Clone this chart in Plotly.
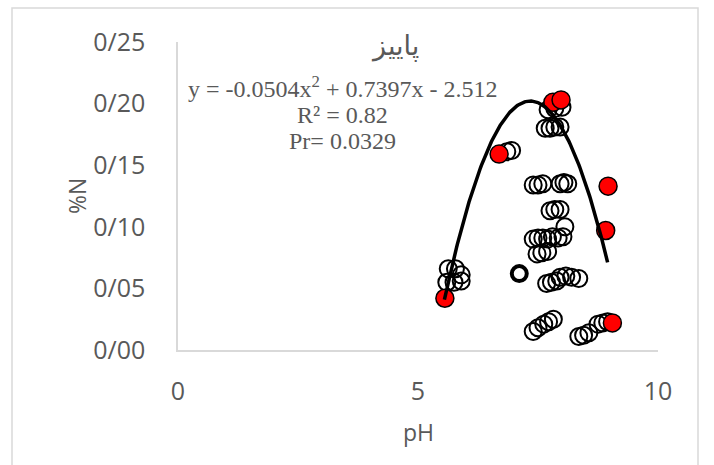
import numpy as np
import plotly.graph_objects as go

# ---- data ----
hollow_x = [7.71, 7.85, 8.00,
            7.65, 7.75, 7.85, 7.96,
            6.85, 6.95,
            7.40, 7.50, 7.60, 7.96, 8.04, 8.12,
            7.75, 7.85, 7.96,
            8.06,
            7.40, 7.50, 7.60, 7.70, 7.80, 7.92, 8.02,
            7.48, 7.58, 7.70,
            5.63, 5.78, 5.90, 5.60, 5.75, 5.90,
            7.68, 7.78, 7.89,
            7.96, 8.08, 8.20, 8.35,
            7.40, 7.50, 7.62, 7.72, 7.82,
            8.35, 8.45, 8.56,
            8.75, 8.85, 8.95]
hollow_y = [0.195, 0.196, 0.197,
            0.180, 0.180, 0.181, 0.181,
            0.161, 0.162,
            0.134, 0.134, 0.135, 0.135, 0.136, 0.135,
            0.113, 0.114, 0.114,
            0.100,
            0.090, 0.091, 0.091, 0.090, 0.092, 0.091, 0.092,
            0.078, 0.079, 0.080,
            0.066, 0.066, 0.061, 0.055, 0.055, 0.056,
            0.054, 0.055, 0.056,
            0.059, 0.060, 0.059, 0.058,
            0.015, 0.018, 0.021, 0.023, 0.025,
            0.011, 0.012, 0.014,
            0.021, 0.022, 0.023]

bold_x = [7.11]
bold_y = [0.062]

red_x = [5.56, 6.69, 7.81, 7.98, 8.96, 8.91, 9.05]
red_y = [0.042, 0.159, 0.201, 0.203, 0.133, 0.097, 0.022]

# trendline (polynomial order 2, as printed on the chart)
coef_a, coef_b, coef_c = -0.0504, 0.7397, -2.512
trend_x_min, trend_x_max = 5.55, 8.95

x_ticks = [0, 5, 10]
y_ticks = [0, 0.05, 0.10, 0.15, 0.20, 0.25]
y_tick_labels = ["0/00", "0/05", "0/10", "0/15", "0/20", "0/25"]

x_title = "pH"
y_title = "%N"
title_text = "پاییز"
eq_text = "y = -0.0504x<sup>2</sup> + 0.7397x - 2.512"
r2_text = "R² = 0.82"
pr_text = "Pr= 0.0329"

# ---- figure ----
tx = np.linspace(trend_x_min, trend_x_max, 200)
ty = coef_a * tx ** 2 + coef_b * tx + coef_c

fig = go.Figure()
fig.add_trace(go.Scatter(
    x=hollow_x, y=hollow_y, mode="markers",
    marker=dict(size=17, color="rgba(0,0,0,0)", line=dict(color="black", width=2)),
    showlegend=False, hoverinfo="x+y"))
fig.add_trace(go.Scatter(
    x=bold_x, y=bold_y, mode="markers",
    marker=dict(size=15, color="rgba(0,0,0,0)", line=dict(color="black", width=4)),
    showlegend=False, hoverinfo="x+y"))
fig.add_trace(go.Scatter(
    x=red_x, y=red_y, mode="markers",
    marker=dict(size=18, color="#ff0000", line=dict(color="black", width=1.5)),
    showlegend=False, hoverinfo="x+y"))
fig.add_trace(go.Scatter(
    x=tx, y=ty, mode="lines",
    line=dict(color="black", width=3.5),
    showlegend=False, hoverinfo="skip"))

gray = "#595959"
tick_font = dict(family="Open Sans, sans-serif", size=25, color=gray)
axis_title_font = dict(family="Open Sans, sans-serif", size=23, color=gray)
serif = dict(family="Liberation Serif, serif", size=24, color=gray)

def px_x(p):
    return (p - 178) / 480

def px_y(p):
    return (350 - p) / 308

fig.update_layout(
    width=714, height=465,
    margin=dict(l=178, r=56, t=42, b=115),
    paper_bgcolor="white", plot_bgcolor="white",
    xaxis=dict(range=[0, 10], tickvals=x_ticks, showgrid=False, zeroline=False,
               showline=True, linecolor="#d9d9d9", linewidth=1.5,
               ticks="outside", ticklen=18, tickcolor="rgba(0,0,0,0)",
               tickfont=tick_font),
    yaxis=dict(range=[0, 0.25], tickvals=y_ticks, ticktext=y_tick_labels,
               showgrid=False, zeroline=False,
               showline=True, linecolor="#d9d9d9", linewidth=1.5,
               ticks="outside", ticklen=26, tickcolor="rgba(0,0,0,0)",
               tickfont=tick_font),
    shapes=[dict(type="rect", xref="paper", yref="paper",
                 x0=px_x(12), x1=px_x(698),
                 y0=-0.45, y1=px_y(8),
                 line=dict(color="#d9d9d9", width=1.5), layer="below")],
    annotations=[
        dict(text=x_title, xref="paper", yref="paper", x=px_x(418), y=px_y(432),
             xanchor="center", yanchor="middle", showarrow=False, font=axis_title_font),
        dict(text=y_title, xref="paper", yref="paper", x=px_x(77), y=px_y(196),
             xanchor="center", yanchor="middle", textangle=-90, showarrow=False,
             font=axis_title_font),
        dict(text=title_text, xref="paper", yref="paper", x=px_x(395), y=px_y(46),
             xanchor="center", yanchor="middle", showarrow=False,
             font=dict(family="DejaVu Serif, DejaVu Sans", size=27, color=gray)),
        dict(text=eq_text, xref="paper", yref="paper", x=px_x(342), y=px_y(87),
             xanchor="center", yanchor="middle", showarrow=False, font=serif),
        dict(text=r2_text, xref="paper", yref="paper", x=px_x(342), y=px_y(115),
             xanchor="center", yanchor="middle", showarrow=False, font=serif),
        dict(text=pr_text, xref="paper", yref="paper", x=px_x(342), y=px_y(141),
             xanchor="center", yanchor="middle", showarrow=False, font=serif),
    ],
)

fig.write_html("out.html")
